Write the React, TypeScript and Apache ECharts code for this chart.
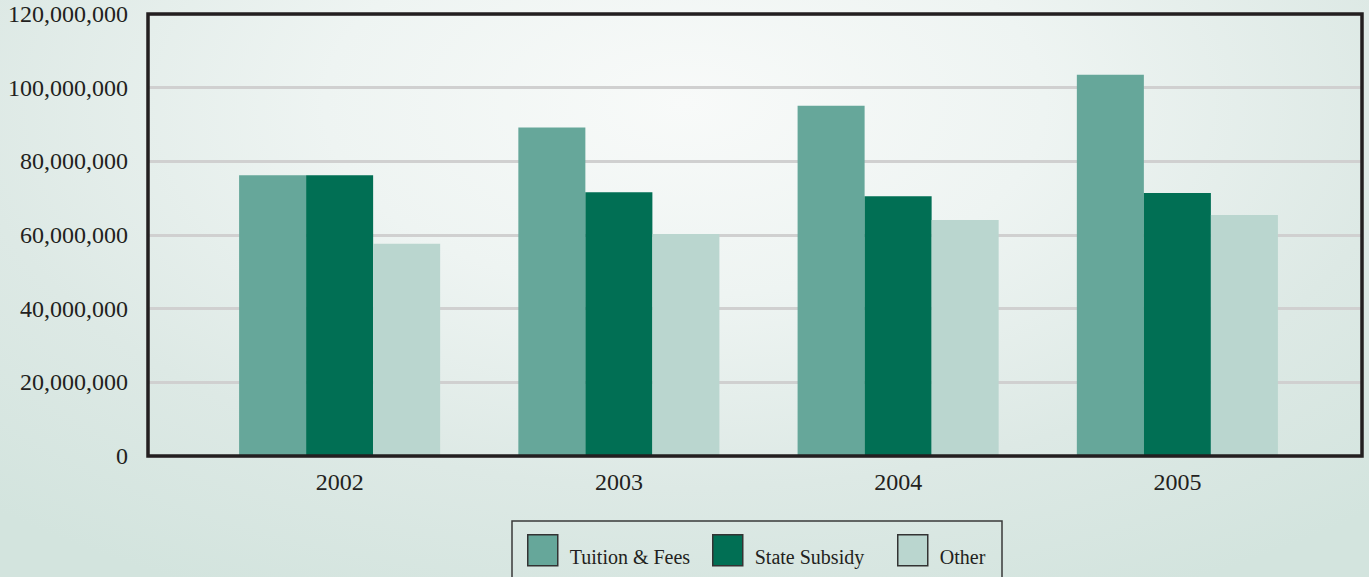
import React, { useEffect, useRef } from "react";
import * as echarts from "echarts";

const years = ["2002", "2003", "2004", "2005"];
const tuitionFees = [76200000, 89200000, 95100000, 103500000];
const stateSubsidy = [76200000, 71600000, 70500000, 71400000];
const other = [57600000, 60300000, 64100000, 65400000];
const seriesNames = ["Tuition & Fees", "State Subsidy", "Other"];
const seriesColors = ["#66a79a", "#016f54", "#bad6cf"];
const legendLefts = [527, 712, 897];

export default function App() {
  const ref = useRef<HTMLDivElement>(null);
  useEffect(() => {
    document.body.style.margin = "0";
    const chart = echarts.init(ref.current!, undefined, { renderer: "svg" });
    const font = "'Liberation Serif', 'Times New Roman', serif";
    const yMax = 120000000;
    chart.setOption({
      animation: false,
      backgroundColor: "transparent",
      grid: [
        { left: 148, right: 7, top: 14, bottom: 121 },
        { left: 200, right: 52, top: 14, bottom: 121 },
      ],
      graphic: [
        {
          type: "rect",
          z: 100,
          silent: true,
          shape: { x: 148, y: 14, width: 1214, height: 442 },
          style: { fill: "none", stroke: "#231f20", lineWidth: 3.5 },
        },
        {
          type: "rect",
          silent: true,
          shape: { x: 512, y: 521, width: 490, height: 70 },
          style: { fill: "none", stroke: "#3a3a3a", lineWidth: 1.5 },
        },
      ],
      xAxis: [
        { gridIndex: 0, type: "value", show: false, min: 0, max: 1 },
        {
          gridIndex: 1,
          type: "category",
          data: years,
          axisLine: { show: false },
          axisTick: { show: false },
          axisLabel: { fontFamily: font, fontSize: 24, color: "#231f20", margin: 14 },
        },
      ],
      yAxis: [
        {
          gridIndex: 0,
          type: "value",
          min: 0,
          max: yMax,
          interval: 20000000,
          axisLine: { show: false },
          axisTick: { show: false },
          axisLabel: {
            fontFamily: font,
            fontSize: 24,
            color: "#231f20",
            margin: 20,
            formatter: (v: number) => v.toLocaleString("en-US"),
          },
          splitLine: { show: true, lineStyle: { color: "#d0d0d0", width: 3 } },
        },
        { gridIndex: 1, type: "value", min: 0, max: yMax, show: false, splitLine: { show: false } },
      ],
      legend: seriesNames.map((name, i) => ({
        left: legendLefts[i],
        top: 534,
        padding: 0,
        itemWidth: 30,
        itemHeight: 31,
        icon: "rect",
        itemStyle: { borderColor: "#333", borderWidth: 1.5 },
        formatter: "{a|{name}}",
        textStyle: {
          fontFamily: font,
          fontSize: 20,
          color: "#231f20",
          padding: [0, 0, 0, 7],
          rich: { a: { fontFamily: font, fontSize: 20, color: "#231f20", padding: [14, 0, 0, 0] } },
        },
        data: [name],
      })),
      series: [tuitionFees, stateSubsidy, other].map((d, i) => ({
        name: seriesNames[i],
        type: "bar",
        xAxisIndex: 1,
        yAxisIndex: 1,
        data: d,
        barGap: "0%",
        barCategoryGap: "28%",
        itemStyle: { color: seriesColors[i] },
      })),
    });
    return () => chart.dispose();
  }, []);
  return (
    <div
      ref={ref}
      style={{
        width: 1369,
        height: 577,
        background:
          "radial-gradient(ellipse 75% 95% at 50% 18%, #f8faf9 0%, #eef4f2 35%, #dde9e5 70%, #d3e4de 100%)",
      }}
    />
  );
}
